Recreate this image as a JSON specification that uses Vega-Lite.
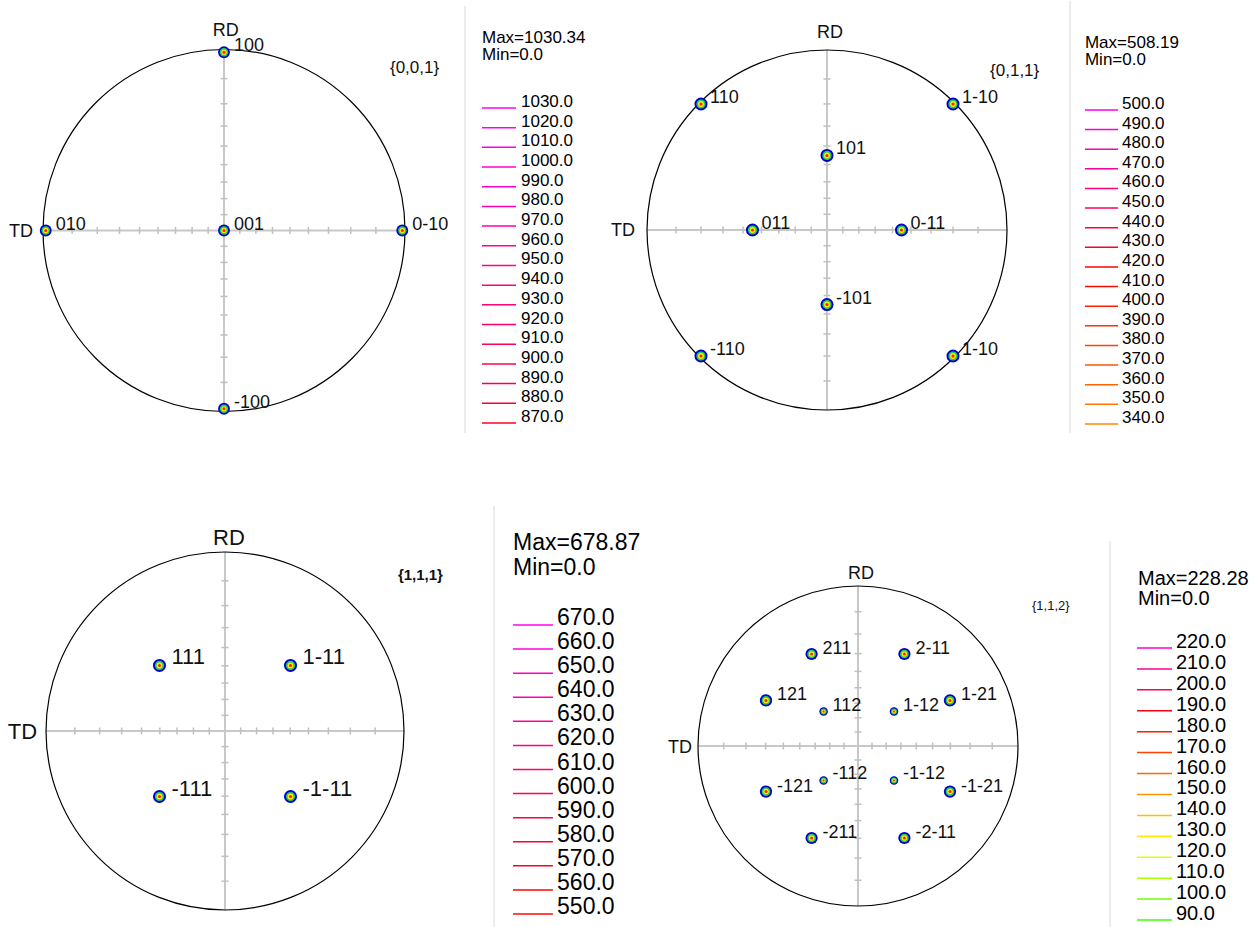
{
"$schema": "https://vega.github.io/schema/vega-lite/v6.json",
"padding": 0,
"autosize": {"type": "pad"},
"bounds": "flush",
"align": "none",
"columns": 2,
"spacing": 0,
"config": {"font": "Liberation Sans", "view": {"stroke": null}},
"resolve": {"scale": {"x": "independent", "y": "independent", "color": "independent"}},
"datasets": {
 "ticks": [{"t":-0.8391},{"t":-0.7002},{"t":-0.5774},{"t":-0.4663},{"t":-0.364},{"t":-0.2679},{"t":-0.1763},{"t":-0.0875},{"t":0.0875},{"t":0.1763},{"t":0.2679},{"t":0.364},{"t":0.4663},{"t":0.5774},{"t":0.7002},{"t":0.8391}],
 "tl_poles": [{"x":0,"y":0.985,"label":"100"},{"x":-0.985,"y":0,"label":"010"},{"x":0,"y":0,"label":"001"},{"x":0.985,"y":0,"label":"0-10"},{"x":0,"y":-0.985,"label":"-100"}],
 "tr_poles": [{"x":-0.7,"y":0.7,"label":"110"},{"x":0.7,"y":0.7,"label":"1-10"},{"x":0,"y":0.414,"label":"101"},{"x":-0.414,"y":0,"label":"011"},{"x":0.414,"y":0,"label":"0-11"},{"x":0,"y":-0.414,"label":"-101"},{"x":-0.7,"y":-0.7,"label":"-110"},{"x":0.7,"y":-0.7,"label":"1-10"}],
 "bl_poles": [{"x":-0.366,"y":0.366,"label":"111"},{"x":0.366,"y":0.366,"label":"1-11"},{"x":-0.366,"y":-0.366,"label":"-111"},{"x":0.366,"y":-0.366,"label":"-1-11"}],
 "br_outer": [{"x":-0.29,"y":0.575,"label":"211"},{"x":0.29,"y":0.575,"label":"2-11"},{"x":-0.575,"y":0.285,"label":"121"},{"x":0.575,"y":0.285,"label":"1-21"},{"x":-0.575,"y":-0.285,"label":"-121"},{"x":0.575,"y":-0.285,"label":"-1-21"},{"x":-0.29,"y":-0.575,"label":"-211"},{"x":0.29,"y":-0.575,"label":"-2-11"}],
 "br_inner": [{"x":-0.215,"y":0.215,"label":"112"},{"x":0.225,"y":0.215,"label":"1-12"},{"x":-0.215,"y":-0.215,"label":"-112"},{"x":0.225,"y":-0.215,"label":"-1-12"}],
 "tl_leg": [{"level":1030},{"level":1020},{"level":1010},{"level":1000},{"level":990},{"level":980},{"level":970},{"level":960},{"level":950},{"level":940},{"level":930},{"level":920},{"level":910},{"level":900},{"level":890},{"level":880},{"level":870}],
 "tr_leg": [{"level":500},{"level":490},{"level":480},{"level":470},{"level":460},{"level":450},{"level":440},{"level":430},{"level":420},{"level":410},{"level":400},{"level":390},{"level":380},{"level":370},{"level":360},{"level":350},{"level":340}],
 "bl_leg": [{"level":670},{"level":660},{"level":650},{"level":640},{"level":630},{"level":620},{"level":610},{"level":600},{"level":590},{"level":580},{"level":570},{"level":560},{"level":550}],
 "br_leg": [{"level":220},{"level":210},{"level":200},{"level":190},{"level":180},{"level":170},{"level":160},{"level":150},{"level":140},{"level":130},{"level":120},{"level":110},{"level":100},{"level":90}]
},
"concat": [
  {"width": 655, "height": 470,
   "resolve": {"scale": {"y": "independent"}},
   "layer": [
    {"layer": [
     {"data": {"values": [{}]}, "mark": {"type": "rule", "color": "#c8c8c8", "strokeWidth": 2},
      "encoding": {"x": {"datum": -1, "type": "quantitative", "axis": null, "scale": {"domain": [-1.2376, 2.3812], "nice": false, "zero": false}}, "x2": {"datum": 1}, "y": {"datum": 0, "type": "quantitative", "axis": null, "scale": {"domain": [-1.3287, 1.268], "nice": false, "zero": false}}}},
     {"data": {"values": [{}]}, "mark": {"type": "rule", "color": "#c8c8c8", "strokeWidth": 2},
      "encoding": {"x": {"datum": 0, "type": "quantitative", "axis": null}, "y": {"datum": -1, "type": "quantitative", "axis": null}, "y2": {"datum": 1}}},
     {"data": {"name": "ticks"}, "mark": {"type": "point", "shape": "M0,-1L0,1", "size": 49, "color": "#c0c0c0", "strokeWidth": 1.5, "opacity": 1},
      "encoding": {"x": {"field": "t", "type": "quantitative", "axis": null}, "y": {"datum": 0, "type": "quantitative", "axis": null}}},
     {"data": {"name": "ticks"}, "mark": {"type": "point", "shape": "M-1,0L1,0", "size": 49, "color": "#c0c0c0", "strokeWidth": 1.5, "opacity": 1},
      "encoding": {"x": {"datum": 0, "type": "quantitative", "axis": null}, "y": {"field": "t", "type": "quantitative", "axis": null}}},
     {"data": {"values": [{}]}, "mark": {"type": "point", "shape": "circle", "size": 131044, "filled": false, "color": "#000000", "strokeWidth": 1.2, "opacity": 1},
      "encoding": {"x": {"datum": 0, "type": "quantitative", "axis": null}, "y": {"datum": 0, "type": "quantitative", "axis": null}}},
     {"data": {"name": "tl_poles"}, "mark": {"type": "point", "shape": "circle", "filled": true, "opacity": 1, "size": 140, "color": "#0000cc", "strokeWidth": 0},
      "encoding": {"x": {"field": "x", "type": "quantitative", "axis": null}, "y": {"field": "y", "type": "quantitative", "axis": null}}},
     {"data": {"name": "tl_poles"}, "mark": {"type": "point", "shape": "circle", "filled": true, "opacity": 1, "size": 70, "color": "#22cc55", "strokeWidth": 0},
      "encoding": {"x": {"field": "x", "type": "quantitative", "axis": null}, "y": {"field": "y", "type": "quantitative", "axis": null}}},
     {"data": {"name": "tl_poles"}, "mark": {"type": "point", "shape": "circle", "filled": true, "opacity": 1, "size": 28, "color": "#ffee00", "strokeWidth": 0},
      "encoding": {"x": {"field": "x", "type": "quantitative", "axis": null}, "y": {"field": "y", "type": "quantitative", "axis": null}}},
     {"data": {"name": "tl_poles"}, "mark": {"type": "point", "shape": "circle", "filled": true, "opacity": 1, "size": 9, "color": "#ff2200", "strokeWidth": 0},
      "encoding": {"x": {"field": "x", "type": "quantitative", "axis": null}, "y": {"field": "y", "type": "quantitative", "axis": null}}},
     {"data": {"name": "tl_poles"}, "mark": {"type": "text", "align": "left", "baseline": "middle", "dx": 10, "dy": -6, "fontSize": 18, "color": "#111111"},
      "encoding": {"x": {"field": "x", "type": "quantitative", "axis": null}, "y": {"field": "y", "type": "quantitative", "axis": null}, "text": {"field": "label"}}},
     {"data": {"values": [{}]}, "mark": {"type": "text", "text": "RD", "align": "center", "baseline": "middle", "fontSize": 18, "color": "#111111"},
      "encoding": {"x": {"datum": 0.01, "type": "quantitative", "axis": null}, "y": {"datum": 1.102, "type": "quantitative", "axis": null}}},
     {"data": {"values": [{}]}, "mark": {"type": "text", "text": "TD", "align": "right", "baseline": "middle", "fontSize": 18, "color": "#111111"},
      "encoding": {"x": {"datum": -1.055, "type": "quantitative", "axis": null}, "y": {"datum": -0.01, "type": "quantitative", "axis": null}}},
     {"data": {"values": [{}]}, "mark": {"type": "text", "text": "{0,0,1}", "align": "left", "baseline": "middle", "fontSize": 17, "color": "#111111"},
      "encoding": {"x": {"datum": 0.917, "type": "quantitative", "axis": null}, "y": {"datum": 0.898, "type": "quantitative", "axis": null}}},
     {"data": {"values": [{}]}, "mark": {"type": "rule", "color": "#d8d8d8", "strokeWidth": 1},
      "encoding": {"x": {"datum": 1.3315, "type": "quantitative", "axis": null}, "y": {"datum": 1.2403, "type": "quantitative", "axis": null}, "y2": {"datum": -1.1188}}}
    ]},
    {"data": {"name": "tl_leg"},
     "layer": [
      {"mark": {"type": "rule", "strokeWidth": 1.5, "yOffset": 6},
       "encoding": {"x": {"datum": 1.4254, "type": "quantitative", "axis": null}, "x2": {"datum": 1.6133}, "y": {"field": "level", "type": "quantitative", "axis": null, "scale": {"domain": [842.57, 1081.3], "nice": false, "zero": false}}, "color": {"field": "level", "type": "quantitative", "legend": null, "scale": {"domain": [0, 360.6, 566.7, 669.7, 844.9, 1030.34], "range": ["#0000ff", "#00ff00", "#ffff00", "#ff9900", "#ff0000", "#ff00ff"], "interpolate": "rgb"}}}},
      {"mark": {"type": "text", "align": "left", "baseline": "middle", "fontSize": 17, "color": "#000000"},
       "encoding": {"x": {"datum": 1.6409, "type": "quantitative", "axis": null}, "y": {"field": "level", "type": "quantitative", "axis": null}, "text": {"field": "level", "type": "quantitative", "format": ".1f"}}},
      {"data": {"values": [{}]}, "mark": {"type": "text", "text": ["Max=1030.34", "Min=0.0"], "lineHeight": 17, "align": "left", "baseline": "middle", "fontSize": 17, "color": "#000000"},
       "encoding": {"x": {"datum": 1.4254, "type": "quantitative", "axis": null}, "y": {"datum": 1062.5, "type": "quantitative", "axis": null}}}
     ]}
   ]},
  {"width": 599, "height": 470,
   "resolve": {"scale": {"y": "independent"}},
   "layer": [
    {"layer": [
     {"data": {"values": [{}]}, "mark": {"type": "rule", "color": "#c8c8c8", "strokeWidth": 2},
      "encoding": {"x": {"datum": -1, "type": "quantitative", "axis": null, "scale": {"domain": [-0.9556, 2.3722], "nice": false, "zero": false}}, "x2": {"datum": 1}, "y": {"datum": 0, "type": "quantitative", "axis": null, "scale": {"domain": [-1.3389, 1.2722], "nice": false, "zero": false}}}},
     {"data": {"values": [{}]}, "mark": {"type": "rule", "color": "#c8c8c8", "strokeWidth": 2},
      "encoding": {"x": {"datum": 0, "type": "quantitative", "axis": null}, "y": {"datum": -1, "type": "quantitative", "axis": null}, "y2": {"datum": 1}}},
     {"data": {"name": "ticks"}, "mark": {"type": "point", "shape": "M0,-1L0,1", "size": 49, "color": "#c0c0c0", "strokeWidth": 1.5, "opacity": 1},
      "encoding": {"x": {"field": "t", "type": "quantitative", "axis": null}, "y": {"datum": 0, "type": "quantitative", "axis": null}}},
     {"data": {"name": "ticks"}, "mark": {"type": "point", "shape": "M-1,0L1,0", "size": 49, "color": "#c0c0c0", "strokeWidth": 1.5, "opacity": 1},
      "encoding": {"x": {"datum": 0, "type": "quantitative", "axis": null}, "y": {"field": "t", "type": "quantitative", "axis": null}}},
     {"data": {"values": [{}]}, "mark": {"type": "point", "shape": "circle", "size": 129600, "filled": false, "color": "#000000", "strokeWidth": 1.2, "opacity": 1},
      "encoding": {"x": {"datum": 0, "type": "quantitative", "axis": null}, "y": {"datum": 0, "type": "quantitative", "axis": null}}},
     {"data": {"name": "tr_poles"}, "mark": {"type": "point", "shape": "circle", "filled": true, "opacity": 1, "size": 170, "color": "#0000cc", "strokeWidth": 0},
      "encoding": {"x": {"field": "x", "type": "quantitative", "axis": null}, "y": {"field": "y", "type": "quantitative", "axis": null}}},
     {"data": {"name": "tr_poles"}, "mark": {"type": "point", "shape": "circle", "filled": true, "opacity": 1, "size": 85, "color": "#22cc55", "strokeWidth": 0},
      "encoding": {"x": {"field": "x", "type": "quantitative", "axis": null}, "y": {"field": "y", "type": "quantitative", "axis": null}}},
     {"data": {"name": "tr_poles"}, "mark": {"type": "point", "shape": "circle", "filled": true, "opacity": 1, "size": 34, "color": "#ffee00", "strokeWidth": 0},
      "encoding": {"x": {"field": "x", "type": "quantitative", "axis": null}, "y": {"field": "y", "type": "quantitative", "axis": null}}},
     {"data": {"name": "tr_poles"}, "mark": {"type": "point", "shape": "circle", "filled": true, "opacity": 1, "size": 10, "color": "#ff2200", "strokeWidth": 0},
      "encoding": {"x": {"field": "x", "type": "quantitative", "axis": null}, "y": {"field": "y", "type": "quantitative", "axis": null}}},
     {"data": {"name": "tr_poles"}, "mark": {"type": "text", "align": "left", "baseline": "middle", "dx": 9, "dy": -6, "fontSize": 18, "color": "#111111"},
      "encoding": {"x": {"field": "x", "type": "quantitative", "axis": null}, "y": {"field": "y", "type": "quantitative", "axis": null}, "text": {"field": "label"}}},
     {"data": {"values": [{}]}, "mark": {"type": "text", "text": "RD", "align": "center", "baseline": "middle", "fontSize": 18, "color": "#111111"},
      "encoding": {"x": {"datum": 0.017, "type": "quantitative", "axis": null}, "y": {"datum": 1.094, "type": "quantitative", "axis": null}}},
     {"data": {"values": [{}]}, "mark": {"type": "text", "text": "TD", "align": "right", "baseline": "middle", "fontSize": 18, "color": "#111111"},
      "encoding": {"x": {"datum": -1.067, "type": "quantitative", "axis": null}, "y": {"datum": -0.005, "type": "quantitative", "axis": null}}},
     {"data": {"values": [{}]}, "mark": {"type": "text", "text": "{0,1,1}", "align": "left", "baseline": "middle", "fontSize": 17, "color": "#111111"},
      "encoding": {"x": {"datum": 0.906, "type": "quantitative", "axis": null}, "y": {"datum": 0.883, "type": "quantitative", "axis": null}}},
     {"data": {"values": [{}]}, "mark": {"type": "rule", "color": "#d8d8d8", "strokeWidth": 1},
      "encoding": {"x": {"datum": 1.35, "type": "quantitative", "axis": null}, "y": {"datum": 1.2722, "type": "quantitative", "axis": null}, "y2": {"datum": -1.128}}}
    ]},
    {"data": {"name": "tr_leg"},
     "layer": [
      {"mark": {"type": "rule", "strokeWidth": 1.5, "yOffset": 6},
       "encoding": {"x": {"datum": 1.433, "type": "quantitative", "axis": null}, "x2": {"datum": 1.617}, "y": {"field": "level", "type": "quantitative", "axis": null, "scale": {"domain": [312.99, 552.48], "nice": false, "zero": false}}, "color": {"field": "level", "type": "quantitative", "legend": null, "scale": {"domain": [0, 177.9, 279.5, 330.3, 416.7, 508.19], "range": ["#0000ff", "#00ff00", "#ffff00", "#ff9900", "#ff0000", "#ff00ff"], "interpolate": "rgb"}}}},
      {"mark": {"type": "text", "align": "left", "baseline": "middle", "fontSize": 17, "color": "#000000"},
       "encoding": {"x": {"datum": 1.639, "type": "quantitative", "axis": null}, "y": {"field": "level", "type": "quantitative", "axis": null}, "text": {"field": "level", "type": "quantitative", "format": ".1f"}}},
      {"data": {"values": [{}]}, "mark": {"type": "text", "text": ["Max=508.19", "Min=0.0"], "lineHeight": 17, "align": "left", "baseline": "middle", "fontSize": 17, "color": "#000000"},
       "encoding": {"x": {"datum": 1.433, "type": "quantitative", "axis": null}, "y": {"datum": 531.3, "type": "quantitative", "axis": null}}}
     ]}
   ]},
  {"width": 655, "height": 457,
   "resolve": {"scale": {"y": "independent"}},
   "layer": [
    {"layer": [
     {"data": {"values": [{}]}, "mark": {"type": "rule", "color": "#c8c8c8", "strokeWidth": 2},
      "encoding": {"x": {"datum": -1, "type": "quantitative", "axis": null, "scale": {"domain": [-1.257, 2.4022], "nice": false, "zero": false}}, "x2": {"datum": 1}, "y": {"datum": 0, "type": "quantitative", "axis": null, "scale": {"domain": [-1.1006, 1.4525], "nice": false, "zero": false}}}},
     {"data": {"values": [{}]}, "mark": {"type": "rule", "color": "#c8c8c8", "strokeWidth": 2},
      "encoding": {"x": {"datum": 0, "type": "quantitative", "axis": null}, "y": {"datum": -1, "type": "quantitative", "axis": null}, "y2": {"datum": 1}}},
     {"data": {"name": "ticks"}, "mark": {"type": "point", "shape": "M0,-1L0,1", "size": 49, "color": "#c0c0c0", "strokeWidth": 1.5, "opacity": 1},
      "encoding": {"x": {"field": "t", "type": "quantitative", "axis": null}, "y": {"datum": 0, "type": "quantitative", "axis": null}}},
     {"data": {"name": "ticks"}, "mark": {"type": "point", "shape": "M-1,0L1,0", "size": 49, "color": "#c0c0c0", "strokeWidth": 1.5, "opacity": 1},
      "encoding": {"x": {"datum": 0, "type": "quantitative", "axis": null}, "y": {"field": "t", "type": "quantitative", "axis": null}}},
     {"data": {"values": [{}]}, "mark": {"type": "point", "shape": "circle", "size": 128164, "filled": false, "color": "#000000", "strokeWidth": 1.2, "opacity": 1},
      "encoding": {"x": {"datum": 0, "type": "quantitative", "axis": null}, "y": {"datum": 0, "type": "quantitative", "axis": null}}},
     {"data": {"name": "bl_poles"}, "mark": {"type": "point", "shape": "circle", "filled": true, "opacity": 1, "size": 170, "color": "#0000cc", "strokeWidth": 0},
      "encoding": {"x": {"field": "x", "type": "quantitative", "axis": null}, "y": {"field": "y", "type": "quantitative", "axis": null}}},
     {"data": {"name": "bl_poles"}, "mark": {"type": "point", "shape": "circle", "filled": true, "opacity": 1, "size": 85, "color": "#22cc55", "strokeWidth": 0},
      "encoding": {"x": {"field": "x", "type": "quantitative", "axis": null}, "y": {"field": "y", "type": "quantitative", "axis": null}}},
     {"data": {"name": "bl_poles"}, "mark": {"type": "point", "shape": "circle", "filled": true, "opacity": 1, "size": 34, "color": "#ffee00", "strokeWidth": 0},
      "encoding": {"x": {"field": "x", "type": "quantitative", "axis": null}, "y": {"field": "y", "type": "quantitative", "axis": null}}},
     {"data": {"name": "bl_poles"}, "mark": {"type": "point", "shape": "circle", "filled": true, "opacity": 1, "size": 10, "color": "#ff2200", "strokeWidth": 0},
      "encoding": {"x": {"field": "x", "type": "quantitative", "axis": null}, "y": {"field": "y", "type": "quantitative", "axis": null}}},
     {"data": {"name": "bl_poles"}, "mark": {"type": "text", "align": "left", "baseline": "middle", "dx": 12, "dy": -8, "fontSize": 22, "color": "#111111"},
      "encoding": {"x": {"field": "x", "type": "quantitative", "axis": null}, "y": {"field": "y", "type": "quantitative", "axis": null}, "text": {"field": "label"}}},
     {"data": {"values": [{}]}, "mark": {"type": "text", "text": "RD", "align": "center", "baseline": "middle", "fontSize": 22, "color": "#111111"},
      "encoding": {"x": {"datum": 0.022, "type": "quantitative", "axis": null}, "y": {"datum": 1.078, "type": "quantitative", "axis": null}}},
     {"data": {"values": [{}]}, "mark": {"type": "text", "text": "TD", "align": "right", "baseline": "middle", "fontSize": 22, "color": "#111111"},
      "encoding": {"x": {"datum": -1.05, "type": "quantitative", "axis": null}, "y": {"datum": -0.005, "type": "quantitative", "axis": null}}},
     {"data": {"values": [{}]}, "mark": {"type": "text", "text": "{1,1,1}", "align": "left", "baseline": "middle", "fontSize": 15, "fontWeight": "bold", "color": "#111111"},
      "encoding": {"x": {"datum": 0.966, "type": "quantitative", "axis": null}, "y": {"datum": 0.871, "type": "quantitative", "axis": null}}},
     {"data": {"values": [{}]}, "mark": {"type": "rule", "color": "#d8d8d8", "strokeWidth": 1},
      "encoding": {"x": {"datum": 1.503, "type": "quantitative", "axis": null}, "y": {"datum": 1.257, "type": "quantitative", "axis": null}, "y2": {"datum": -1.1006}}}
    ]},
    {"data": {"name": "bl_leg"},
     "layer": [
      {"mark": {"type": "rule", "strokeWidth": 1.5, "yOffset": 7},
       "encoding": {"x": {"datum": 1.609, "type": "quantitative", "axis": null}, "x2": {"datum": 1.832}, "y": {"field": "level", "type": "quantitative", "axis": null, "scale": {"domain": [541.28, 731.04], "nice": false, "zero": false}}, "color": {"field": "level", "type": "quantitative", "legend": null, "scale": {"domain": [0, 237.6, 373.4, 441.3, 556.7, 678.87], "range": ["#0000ff", "#00ff00", "#ffff00", "#ff9900", "#ff0000", "#ff00ff"], "interpolate": "rgb"}}}},
      {"mark": {"type": "text", "align": "left", "baseline": "middle", "fontSize": 23, "color": "#000000"},
       "encoding": {"x": {"datum": 1.855, "type": "quantitative", "axis": null}, "y": {"field": "level", "type": "quantitative", "axis": null}, "text": {"field": "level", "type": "quantitative", "format": ".1f"}}},
      {"data": {"values": [{}]}, "mark": {"type": "text", "text": ["Max=678.87", "Min=0.0"], "lineHeight": 25, "align": "left", "baseline": "middle", "fontSize": 23, "color": "#000000"},
       "encoding": {"x": {"datum": 1.609, "type": "quantitative", "axis": null}, "y": {"datum": 701.1, "type": "quantitative", "axis": null}}}
     ]}
   ]},
  {"width": 599, "height": 457,
   "resolve": {"scale": {"y": "independent"}},
   "layer": [
    {"layer": [
     {"data": {"values": [{}]}, "mark": {"type": "rule", "color": "#c8c8c8", "strokeWidth": 2},
      "encoding": {"x": {"datum": -1, "type": "quantitative", "axis": null, "scale": {"domain": [-1.26875, 2.475], "nice": false, "zero": false}}, "x2": {"datum": 1}, "y": {"datum": 0, "type": "quantitative", "axis": null, "scale": {"domain": [-1.1375, 1.71875], "nice": false, "zero": false}}}},
     {"data": {"values": [{}]}, "mark": {"type": "rule", "color": "#c8c8c8", "strokeWidth": 2},
      "encoding": {"x": {"datum": 0, "type": "quantitative", "axis": null}, "y": {"datum": -1, "type": "quantitative", "axis": null}, "y2": {"datum": 1}}},
     {"data": {"name": "ticks"}, "mark": {"type": "point", "shape": "M0,-1L0,1", "size": 49, "color": "#c0c0c0", "strokeWidth": 1.5, "opacity": 1},
      "encoding": {"x": {"field": "t", "type": "quantitative", "axis": null}, "y": {"datum": 0, "type": "quantitative", "axis": null}}},
     {"data": {"name": "ticks"}, "mark": {"type": "point", "shape": "M-1,0L1,0", "size": 49, "color": "#c0c0c0", "strokeWidth": 1.5, "opacity": 1},
      "encoding": {"x": {"datum": 0, "type": "quantitative", "axis": null}, "y": {"field": "t", "type": "quantitative", "axis": null}}},
     {"data": {"values": [{}]}, "mark": {"type": "point", "shape": "circle", "size": 102400, "filled": false, "color": "#000000", "strokeWidth": 1.2, "opacity": 1},
      "encoding": {"x": {"datum": 0, "type": "quantitative", "axis": null}, "y": {"datum": 0, "type": "quantitative", "axis": null}}},
     {"data": {"name": "br_outer"}, "mark": {"type": "point", "shape": "circle", "filled": true, "opacity": 1, "size": 150, "color": "#0000cc", "strokeWidth": 0},
      "encoding": {"x": {"field": "x", "type": "quantitative", "axis": null}, "y": {"field": "y", "type": "quantitative", "axis": null}}},
     {"data": {"name": "br_outer"}, "mark": {"type": "point", "shape": "circle", "filled": true, "opacity": 1, "size": 75, "color": "#22cc55", "strokeWidth": 0},
      "encoding": {"x": {"field": "x", "type": "quantitative", "axis": null}, "y": {"field": "y", "type": "quantitative", "axis": null}}},
     {"data": {"name": "br_outer"}, "mark": {"type": "point", "shape": "circle", "filled": true, "opacity": 1, "size": 30, "color": "#ffee00", "strokeWidth": 0},
      "encoding": {"x": {"field": "x", "type": "quantitative", "axis": null}, "y": {"field": "y", "type": "quantitative", "axis": null}}},
     {"data": {"name": "br_outer"}, "mark": {"type": "point", "shape": "circle", "filled": true, "opacity": 1, "size": 9, "color": "#ff2200", "strokeWidth": 0},
      "encoding": {"x": {"field": "x", "type": "quantitative", "axis": null}, "y": {"field": "y", "type": "quantitative", "axis": null}}},
     {"data": {"name": "br_outer"}, "mark": {"type": "text", "align": "left", "baseline": "middle", "dx": 11, "dy": -5, "fontSize": 18, "color": "#111111"},
      "encoding": {"x": {"field": "x", "type": "quantitative", "axis": null}, "y": {"field": "y", "type": "quantitative", "axis": null}, "text": {"field": "label"}}},
     {"data": {"name": "br_inner"}, "mark": {"type": "point", "shape": "circle", "filled": true, "opacity": 1, "size": 72, "color": "#0000cc", "strokeWidth": 0},
      "encoding": {"x": {"field": "x", "type": "quantitative", "axis": null}, "y": {"field": "y", "type": "quantitative", "axis": null}}},
     {"data": {"name": "br_inner"}, "mark": {"type": "point", "shape": "circle", "filled": true, "opacity": 1, "size": 36, "color": "#22cc55", "strokeWidth": 0},
      "encoding": {"x": {"field": "x", "type": "quantitative", "axis": null}, "y": {"field": "y", "type": "quantitative", "axis": null}}},
     {"data": {"name": "br_inner"}, "mark": {"type": "point", "shape": "circle", "filled": true, "opacity": 1, "size": 14, "color": "#ffee00", "strokeWidth": 0},
      "encoding": {"x": {"field": "x", "type": "quantitative", "axis": null}, "y": {"field": "y", "type": "quantitative", "axis": null}}},
     {"data": {"name": "br_inner"}, "mark": {"type": "point", "shape": "circle", "filled": true, "opacity": 1, "size": 4, "color": "#ff2200", "strokeWidth": 0},
      "encoding": {"x": {"field": "x", "type": "quantitative", "axis": null}, "y": {"field": "y", "type": "quantitative", "axis": null}}},
     {"data": {"name": "br_inner"}, "mark": {"type": "text", "align": "left", "baseline": "middle", "dx": 9, "dy": -6, "fontSize": 18, "color": "#111111"},
      "encoding": {"x": {"field": "x", "type": "quantitative", "axis": null}, "y": {"field": "y", "type": "quantitative", "axis": null}, "text": {"field": "label"}}},
     {"data": {"values": [{}]}, "mark": {"type": "text", "text": "RD", "align": "center", "baseline": "middle", "fontSize": 18, "color": "#111111"},
      "encoding": {"x": {"datum": 0.019, "type": "quantitative", "axis": null}, "y": {"datum": 1.075, "type": "quantitative", "axis": null}}},
     {"data": {"values": [{}]}, "mark": {"type": "text", "text": "TD", "align": "right", "baseline": "middle", "fontSize": 18, "color": "#111111"},
      "encoding": {"x": {"datum": -1.0375, "type": "quantitative", "axis": null}, "y": {"datum": -0.01, "type": "quantitative", "axis": null}}},
     {"data": {"values": [{}]}, "mark": {"type": "text", "text": "{1,1,2}", "align": "left", "baseline": "middle", "fontSize": 13, "color": "#111111"},
      "encoding": {"x": {"datum": 1.0875, "type": "quantitative", "axis": null}, "y": {"datum": 0.875, "type": "quantitative", "axis": null}}},
     {"data": {"values": [{}]}, "mark": {"type": "rule", "color": "#d8d8d8", "strokeWidth": 1},
      "encoding": {"x": {"datum": 1.575, "type": "quantitative", "axis": null}, "y": {"datum": 1.281, "type": "quantitative", "axis": null}, "y2": {"datum": -1.1375}}}
    ]},
    {"data": {"name": "br_leg"},
     "layer": [
      {"mark": {"type": "rule", "strokeWidth": 1.5, "yOffset": 6},
       "encoding": {"x": {"datum": 1.744, "type": "quantitative", "axis": null}, "x2": {"datum": 1.9625}, "y": {"field": "level", "type": "quantitative", "axis": null, "scale": {"domain": [83.31, 301.73], "nice": false, "zero": false}}, "color": {"field": "level", "type": "quantitative", "legend": null, "scale": {"domain": [0, 79.9, 125.6, 148.4, 187.2, 228.28], "range": ["#0000ff", "#00ff00", "#ffff00", "#ff9900", "#ff0000", "#ff00ff"], "interpolate": "rgb"}}}},
      {"mark": {"type": "text", "align": "left", "baseline": "middle", "fontSize": 20, "color": "#000000"},
       "encoding": {"x": {"datum": 1.9875, "type": "quantitative", "axis": null}, "y": {"field": "level", "type": "quantitative", "axis": null}, "text": {"field": "level", "type": "quantitative", "format": ".1f"}}},
      {"data": {"values": [{}]}, "mark": {"type": "text", "text": ["Max=228.28", "Min=0.0"], "lineHeight": 20, "align": "left", "baseline": "middle", "fontSize": 20, "color": "#000000"},
       "encoding": {"x": {"datum": 1.75, "type": "quantitative", "axis": null}, "y": {"datum": 250.1, "type": "quantitative", "axis": null}}}
     ]}
   ]}
]
}
